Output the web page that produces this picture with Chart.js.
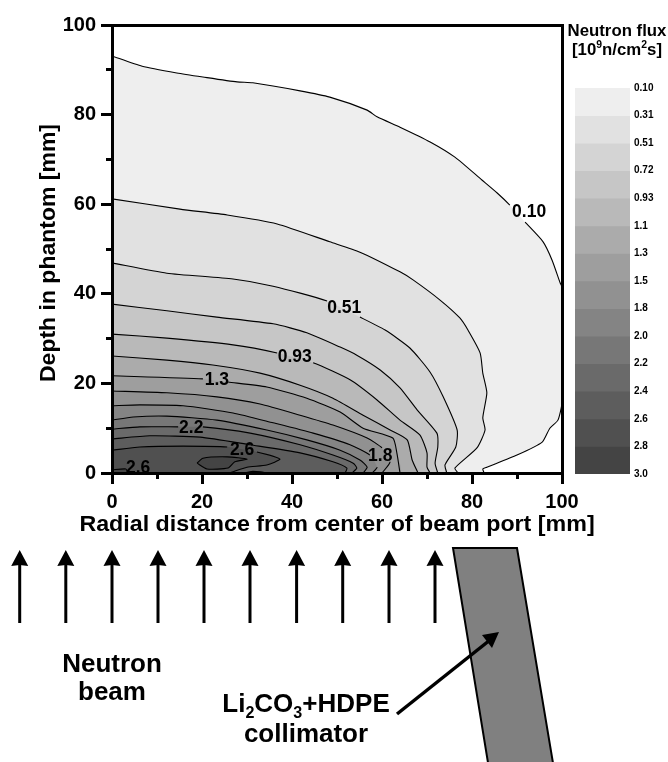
<!DOCTYPE html>
<html>
<head>
<meta charset="utf-8">
<style>
html,body{margin:0;padding:0;background:#fff;}
#page{position:relative;width:668px;height:762px;overflow:hidden;font-family:"Liberation Sans",Arial,sans-serif;font-weight:bold;color:#000;}
canvas{position:absolute;display:block;}
svg{position:absolute;left:0;top:0;}
.t{position:absolute;text-align:center;white-space:nowrap;line-height:1;}
sub,sup{font-size:62%;line-height:0;}
</style>
<script src="https://cdn.jsdelivr.net/npm/chart.js@4/dist/chart.umd.min.js"></script>
</head>
<body>
<div id="page">
<canvas id="main" width="668" height="762" style="left:0;top:0"></canvas>
<canvas id="bar" width="98" height="415" style="left:570px;top:75px"></canvas>
<svg id="sk" width="668" height="762" viewBox="0 0 668 762"></svg>
<div class="t" style="left:540px;width:154px;top:23px;font-size:16.8px;">Neutron flux</div>
<div class="t" style="left:540px;width:154px;top:42px;font-size:16.8px;">[10<sup>9</sup>n/cm<sup>2</sup>s]</div>
<div class="t" style="left:12px;width:200px;top:650px;font-size:26px;">Neutron</div>
<div class="t" style="left:12px;width:200px;top:678px;font-size:26px;">beam</div>
<div class="t" style="left:186px;width:240px;top:690px;font-size:26px;">Li<sub>2</sub>CO<sub>3</sub>+HDPE</div>
<div class="t" style="left:186px;width:240px;top:720px;font-size:26px;">collimator</div>
</div>
<script>
// x = radial distance [mm], y = depth [mm]; each contour runs from the y axis to the x axis
const levels = ["0.10","0.31","0.51","0.72","0.93","1.1","1.3","1.5","1.8","2.0","2.2","2.4","2.6"];
const colorbarLabels = ["0.10","0.31","0.51","0.72","0.93","1.1","1.3","1.5","1.8","2.0","2.2","2.4","2.6","2.8","3.0"];
const bandColors = ["#eeeeee","#e1e1e1","#d4d4d4","#c6c6c6","#b9b9b9","#ababab","#9e9e9e","#919191","#848484","#777777","#6a6a6a","#5d5d5d","#505050","#444444"];
const c010 = [[0,93.1],[6.7,90.8],[14.4,89.3],[20.2,88.4],[27.8,87.3],[31.3,87.1],[41.8,85.3],[48.4,83.9],[56.7,81.0],[58.9,79.5],[64,77.2],[70.7,73.9],[76.2,70.5],[82.2,65.4],[85.6,62.5],[88.4,59.8],[91.8,56.0],[95.8,51.6],[97.8,47.5],[99.6,42.4],[100,41.5],[100,15.8],[99.1,11.8],[97.3,10.0],[95.6,6.9],[90,4.0],[83.3,1.3],[82.4,0.9],[82.7,0]];
const c031 = [[0,61.2],[15.1,58.9],[25.6,57.6],[36.7,55.6],[48.4,51.6],[55.1,49.3],[64,44.9],[66.9,43.1],[72.9,38.6],[77.3,34.6],[79.1,31.9],[81.8,26.8],[82.4,22.3],[83.3,17.9],[82.4,12.3],[82.9,9.6],[81.1,5.6],[76.2,1.1],[76.9,0]];
const c051 = [[0,46.9],[12.2,44.6],[26.9,43.3],[35.8,41.7],[47.8,38.4],[55.1,34.8],[60.7,31.9],[66.2,27.9],[70.7,22.5],[73.6,17.0],[76.7,9.6],[76.4,5.8],[74,1.8],[74.4,0]];
const c072 = [[0,37.7],[12.2,36.2],[23.3,34.8],[35.8,33.3],[43.3,31.3],[50.7,28.1],[54.4,26.3],[59.6,23.0],[64,19.0],[67.8,14.1],[72.2,8.9],[72.4,5.8],[71.8,2.2],[72.4,0]];
const c093 = [[0,31.0],[12.2,30.1],[26.9,28.6],[36.7,26.8],[44.7,24.6],[52.9,20.8],[58.9,16.3],[64,11.8],[68.4,8.5],[70,4.5],[70,1.3],[70.7,0]];
const c11 = [[0,26.1],[12.2,25.2],[22.4,24.1],[32.9,22.3],[41.8,19.6],[49.1,16.7],[55.8,12.9],[61.8,9.6],[65.6,7.4],[66.7,2.9],[68,0]];
const c13 = [[0,21.7],[20.2,21.0],[25.8,20.3],[34.4,19.2],[43.3,16.7],[50.7,13.6],[55.8,10.0],[62.4,7.8],[63.3,4.5],[64,0]];
const c15 = [[0,18.3],[12.2,17.9],[23.3,17.0],[32.9,15.4],[41.8,12.9],[49.1,10.7],[56.7,7.8],[60,5.6],[61.8,2.5],[60,0]];
const c18 = [[0,15],[6.2,15.2],[15.8,15],[26.9,13.4],[35.8,11.2],[44.7,8.9],[52.9,6.3],[57.3,4],[58.9,1.3],[57.8,0]];
const c20 = [[0,11.8],[4.7,12.5],[12.2,12.7],[23.3,11.8],[34.4,9.6],[43.3,7.4],[50.7,5.1],[55.1,2.9],[56.7,1.3],[55.8,0]];
const c22 = [[0,9.8],[6.2,10.3],[14.7,10.3],[20.2,10.3],[30.7,8.9],[41.8,6.3],[49.1,4],[53.6,2.2],[54.4,1.1],[53.3,0]];
const c24 = [[0,7.6],[8.4,8.3],[19.6,8.0],[30.7,6.3],[41.8,4.5],[49.1,2.5],[52.2,1.1],[51.8,0]];
const c26 = [[0,5.1],[6.2,5.8],[15.8,6.0],[25.6,5.8],[32.2,4.7],[37.3,3.1],[34.4,1.8],[30,1.3],[26.7,0.2],[26.2,0]];
const islandTop = [[18.9,2.2],[20.2,3.3],[25.6,3.6],[30,3.1],[27.3,2.5],[25.8,1.1],[21.1,0.9],[18.9,2.2]];
const spotMid = [[29.5,0],[31,0.35],[33,0.25],[34.5,0]];
const spotLeft = [[0,0.7],[3.1,0.9],[3.5,0]];
const contourLines = [c010,c031,c051,c072,c093,c11,c13,c15,c18,c20,c22,c24,c26];
const cornerPoint = [0,0];
const labelText = ["0.10","0.51","0.93","1.3","2.2","2.6","2.6","1.8"];
const labelX = [92.7,51.6,40.6,23.3,17.6,28.9,5.8,59.6];
const labelY = [58.5,37,26,21,10.3,5.4,1.4,4];
const xTicksMajor = 20, xTicksMinor = 10;
const beamArrowX = [19.7,65.8,112,158,204,250,296.6,342.7,389,435];

const FONT = '"Liberation Sans",Arial,sans-serif';
const SMOOTH = 0.2;
const toPts = a => a.map(p => ({x:p[0], y:p[1]}));
const datasets = [];
const fillBase = {showLine:true, pointRadius:0, borderWidth:0, borderColor:'transparent', fill:'shape', tension:SMOOTH};
contourLines.forEach((line,i) => {
  datasets.push({...fillBase, label:'fill '+levels[i], data:toPts(line.concat([cornerPoint])), backgroundColor:bandColors[i], order:200-i});
});
datasets.push({...fillBase, label:'fill 2.8', data:toPts(islandTop), backgroundColor:bandColors[13], order:150});
datasets.push({...fillBase, label:'fill spot a', data:toPts(spotMid), backgroundColor:bandColors[13], order:149});
datasets.push({...fillBase, label:'fill spot b', data:toPts(spotLeft.concat([cornerPoint])), backgroundColor:bandColors[13], order:148});

// rectangle around each contour label, in pixels; contour lines leave a gap there
function inLabel(chart, px, py){
  const xs = chart.scales.x, ys = chart.scales.y;
  for (let i=0;i<labelText.length;i++){
    const w = labelText[i].length>3 ? 18 : 14;
    if (Math.abs(px-xs.getPixelForValue(labelX[i]))<w && Math.abs(py-ys.getPixelForValue(labelY[i]))<8) return true;
  }
  return false;
}
const strokeBase = {showLine:true, pointRadius:0, borderWidth:1.1, borderColor:'#000', backgroundColor:'transparent', fill:false, tension:SMOOTH};
const segOpt = {borderColor: ctx => inLabel(ctx.chart,(ctx.p0.x+ctx.p1.x)/2,(ctx.p0.y+ctx.p1.y)/2) ? 'rgba(0,0,0,0)' : undefined};
contourLines.forEach((line,i) => {
  datasets.push({...strokeBase, label:levels[i], data:toPts(line), segment:segOpt, order:100-i});
});
datasets.push({...strokeBase, label:'2.8', data:toPts(islandTop), order:50});
datasets.push({...strokeBase, label:'spot a', data:toPts(spotMid), order:49});
datasets.push({...strokeBase, label:'spot b', data:toPts(spotLeft), order:48});

const labelPlugin = {
  id:'contourLabels',
  afterDatasetsDraw(chart){
    const c = chart.ctx, xs = chart.scales.x, ys = chart.scales.y;
    c.save();
    c.font = 'bold 17.5px '+FONT; c.fillStyle='#000'; c.textAlign='center'; c.textBaseline='middle';
    labelText.forEach((t,i)=>c.fillText(t, xs.getPixelForValue(labelX[i]), ys.getPixelForValue(labelY[i])+1));
    c.restore();
  }
};
// the reference's axis titles are set a little wider than the plain font
const stretchPlugin = {
  id:'stretchTitles',
  beforeDraw(chart){
    const c = chart.ctx;
    const wrap = (s, sx, sy, cx, cy, dy) => {
      if (s._wrapped) return;
      s._wrapped = true;
      const orig = s.drawTitle;
      s.drawTitle = function(){
        c.save(); c.translate(cx, cy+dy); c.scale(sx, sy); c.translate(-cx, -cy);
        orig.call(this); c.restore();
      };
    };
    wrap(chart.scales.x, 1.145, 1, 337, 524, 0);
    wrap(chart.scales.y, 1, 1.045, 48, 249, 4);
  }
};
const grid = {drawOnChartArea:false, color:'#000', tickColor:'#000', tickWidth:3};
const tick = {color:'#000', font:{family:FONT, size:20, weight:'bold'}, maxRotation:0, autoSkip:false};
const axisTitle = (text,size,pad) => ({display:true, text, color:'#000', font:{family:FONT, size, weight:'bold'}, padding:pad});
new Chart(document.getElementById('main'),{
  type:'scatter',
  data:{datasets},
  plugins:[labelPlugin, stretchPlugin],
  options:{
    responsive:false, animation:false,
    layout:{padding:{left:0,top:25,right:106,bottom:224}},
    plugins:{legend:{display:false},tooltip:{enabled:false}},
    scales:{
      x:{type:'linear',position:'bottom',min:0,max:100,weight:0,
        ticks:{...tick,stepSize:xTicksMajor,padding:6},
        grid:{...grid,tickLength:11},
        border:{display:true,color:'#000',width:3,z:3},
        title:axisTitle('Radial distance from center of beam port [mm]',22,{top:0,bottom:0}),
        afterFit(s){s.height=65;}},
      y:{type:'linear',position:'left',min:0,max:100,weight:0,
        ticks:{...tick,stepSize:xTicksMajor,padding:5},
        grid:{...grid,tickLength:11},
        border:{display:true,color:'#000',width:3,z:3},
        title:axisTitle('Depth in phantom [mm]',22,{top:36,bottom:0}),
        afterFit(s){s.width=112;}},
      xMinor:{type:'linear',position:'bottom',min:0,max:100,weight:-1,
        ticks:{display:false,stepSize:xTicksMinor,autoSkip:false},
        grid:{...grid,tickLength:6},border:{display:false},
        afterFit(s){s.height=0;}},
      yMinor:{type:'linear',position:'left',min:0,max:100,weight:-1,
        ticks:{display:false,stepSize:xTicksMinor,autoSkip:false},
        grid:{...grid,tickLength:6},border:{display:false},
        afterFit(s){s.width=0;}},
      xTop:{type:'linear',position:'top',min:0,max:100,
        ticks:{display:false},grid:{display:false},
        border:{display:true,color:'#000',width:3,z:3},
        afterFit(s){s.height=0;}},
      yRight:{type:'linear',position:'right',min:0,max:100,
        ticks:{display:false},grid:{display:false},
        border:{display:true,color:'#000',width:3,z:3},
        afterFit(s){s.width=0;}}
    }
  }
});

// colour scale
const barSets = bandColors.map((col,i)=>({label:colorbarLabels[i], data:[1], backgroundColor:col, borderWidth:0, stack:'s', barPercentage:1, categoryPercentage:1}));
new Chart(document.getElementById('bar'),{
  type:'bar',
  data:{labels:['flux'],datasets:barSets},
  options:{
    responsive:false, animation:false,
    layout:{padding:{left:5,top:13,right:0,bottom:16}},
    plugins:{legend:{display:false},tooltip:{enabled:false}},
    scales:{
      x:{display:false,stacked:true},
      y:{stacked:true,position:'right',reverse:true,min:0,max:14,
        grid:{display:false,drawTicks:false},border:{display:false},
        ticks:{stepSize:1,autoSkip:false,padding:4,color:'#000',font:{family:FONT,size:10,weight:'bold'},
          callback:v=>colorbarLabels[v]},
        afterFit(s){s.width=38;}}
    }
  }
});

// schematic below the plot
const NS='http://www.w3.org/2000/svg', sk=document.getElementById('sk');
const add=(n,attrs)=>{const e=document.createElementNS(NS,n);for(const k in attrs)e.setAttribute(k,attrs[k]);sk.appendChild(e);};
beamArrowX.forEach(x=>{
  add('line',{x1:x,y1:623,x2:x,y2:560,stroke:'#000','stroke-width':3});
  add('polygon',{points:`${x},550 ${x+8.5},566 ${x},565 ${x-8.5},566`,fill:'#000'});
});
add('polygon',{points:'453,548 517,548 555,775 490,775',fill:'#808080',stroke:'#000','stroke-width':2});
add('line',{x1:397,y1:714,x2:490,y2:640,stroke:'#000','stroke-width':3.5});
add('polygon',{points:'499,632 482,635 492,648',fill:'#000'});
</script>
</body>
</html>
